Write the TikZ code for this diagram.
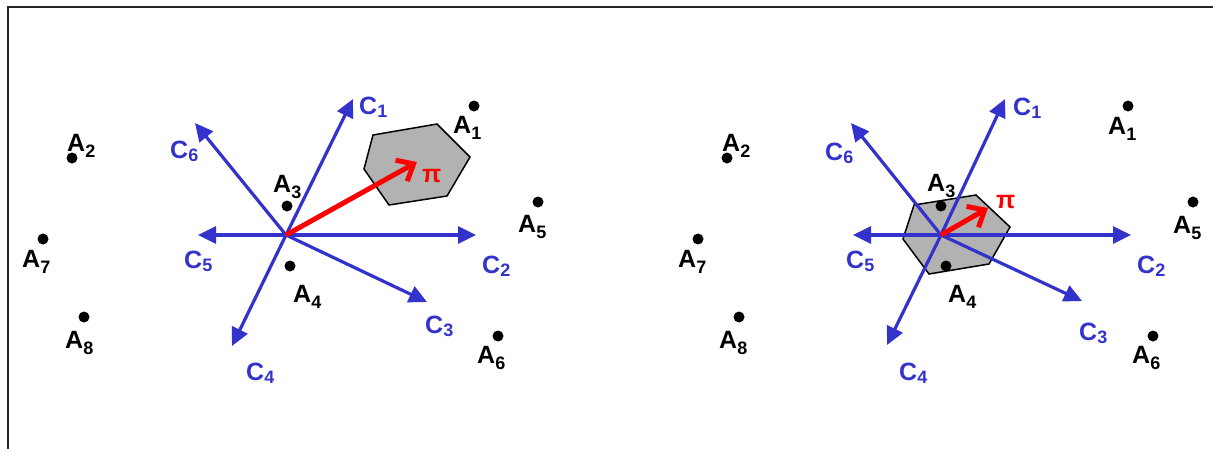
\documentclass[tikz,border=0pt]{standalone}
\usepackage{fontspec}
\setmainfont{Liberation Sans}
\newfontfamily\labfont{Liberation Sans Bold}
\usetikzlibrary{arrows.meta}
\definecolor{cblue}{RGB}{51,51,204}
\definecolor{hexgray}{RGB}{178,178,178}
\newcommand{\sublab}[3]{#1\raisebox{-#3pt}{\fontsize{18}{18}\selectfont #2}}
\begin{document}
\begin{tikzpicture}[x=1pt,y=-1pt,
  bluearrow/.style={draw=cblue, line width=3.2pt, -{Triangle[length=18pt,width=17pt]}},
  redarrow/.style={draw=red, line width=5pt, -{Straight Barb[length=14pt,width=24pt]}},
  hexstyle/.style={draw=black, line width=1.5pt, fill=hexgray, line join=miter},
  dotstyle/.style={circle, fill=black, inner sep=0pt, minimum size=11pt},
  alab/.style={anchor=base west, inner sep=0pt, font=\labfont\fontsize{25}{25}\selectfont, text=black},
  clab/.style={alab, text=cblue},
  pilab/.style={alab, text=red},
  frame/.style={draw=black!85, line width=1.5pt}]
\useasboundingbox (0,0) rectangle (1213,448);
% frame
\coordinate (f1) at (8,452);
\coordinate (f2) at (8,7);
\coordinate (f3) at (1217,7);
\draw[frame] (f1) -- (f2) -- (f3);

% ---------------- left diagram ----------------
\coordinate (LO) at (286,235);
\coordinate (Lc1) at (353,99);
\coordinate (Lc6) at (195,123);
\coordinate (Lc5) at (198,235);
\coordinate (Lc2) at (476,235);
\coordinate (Lc3) at (427,302);
\coordinate (Lc4) at (232,346);
\coordinate (Lpi) at (417,162);
\draw[hexstyle] (373,135) -- (437,124) -- (470,157) -- (447,196) -- (389,205) -- (364,169) -- cycle;
\foreach \t in {Lc1,Lc2,Lc3,Lc4,Lc5,Lc6} \draw[bluearrow] (LO) -- (\t);
\draw[redarrow] (LO) -- (Lpi);
\node[dotstyle] (LA1) at (474,106) {};
\node[dotstyle] (LA2) at (72,158) {};
\node[dotstyle] (LA3) at (287,206) {};
\node[dotstyle] (LA4) at (290,266) {};
\node[dotstyle] (LA5) at (538,202) {};
\node[dotstyle] (LA6) at (498,336) {};
\node[dotstyle] (LA7) at (43,239) {};
\node[dotstyle] (LA8) at (84,317) {};
\node[alab] (LtA1) at (453,133) {\sublab{A}{1}{6}};
\node[alab] (LtA2) at (67,151) {\sublab{A}{2}{6}};
\node[alab] (LtA3) at (273,192) {\sublab{A}{3}{6}};
\node[alab] (LtA4) at (293,302) {\sublab{A}{4}{6}};
\node[alab] (LtA5) at (518,232) {\sublab{A}{5}{6}};
\node[alab] (LtA6) at (477,363) {\sublab{A}{6}{6}};
\node[alab] (LtA7) at (22,267) {\sublab{A}{7}{6}};
\node[alab] (LtA8) at (65,348) {\sublab{A}{8}{6}};
\node[clab] (LtC1) at (359,114) {\sublab{C}{1}{3}};
\node[clab] (LtC2) at (482,273) {\sublab{C}{2}{3}};
\node[clab] (LtC3) at (425,333) {\sublab{C}{3}{3}};
\node[clab] (LtC4) at (246,380) {\sublab{C}{4}{3}};
\node[clab] (LtC5) at (184,268) {\sublab{C}{5}{3}};
\node[clab] (LtC6) at (170,158) {\sublab{C}{6}{3}};
\node[pilab] (Ltpi) at (422,182) {π};

% ---------------- right diagram ----------------
\coordinate (RO) at (941,235);
\coordinate (Rc1) at (1005,99);
\coordinate (Rc6) at (851,123);
\coordinate (Rc5) at (853,235);
\coordinate (Rc2) at (1131,235);
\coordinate (Rc3) at (1082,301);
\coordinate (Rc4) at (887,345);
\coordinate (Rpi) at (988,208);
\draw[hexstyle] (914,205) -- (976,195) -- (1010,227) -- (989,264) -- (929,274) -- (903,239) -- cycle;
\foreach \t in {Rc1,Rc2,Rc3,Rc4,Rc5,Rc6} \draw[bluearrow] (RO) -- (\t);
\draw[redarrow] (RO) -- (Rpi);
\node[dotstyle] (RA1) at (1128,106) {};
\node[dotstyle] (RA2) at (727,158) {};
\node[dotstyle] (RA3) at (941,206) {};
\node[dotstyle] (RA4) at (946,266) {};
\node[dotstyle] (RA5) at (1193,202) {};
\node[dotstyle] (RA6) at (1153,336) {};
\node[dotstyle] (RA7) at (698,239) {};
\node[dotstyle] (RA8) at (739,317) {};
\node[alab] (RtA1) at (1108,134) {\sublab{A}{1}{6}};
\node[alab] (RtA2) at (722,151) {\sublab{A}{2}{6}};
\node[alab] (RtA3) at (927,191) {\sublab{A}{3}{6}};
\node[alab] (RtA4) at (948,302) {\sublab{A}{4}{6}};
\node[alab] (RtA5) at (1173,233) {\sublab{A}{5}{6}};
\node[alab] (RtA6) at (1132,363) {\sublab{A}{6}{6}};
\node[alab] (RtA7) at (678,267) {\sublab{A}{7}{6}};
\node[alab] (RtA8) at (719,348) {\sublab{A}{8}{6}};
\node[clab] (RtC1) at (1013,115) {\sublab{C}{1}{3}};
\node[clab] (RtC2) at (1137,273) {\sublab{C}{2}{3}};
\node[clab] (RtC3) at (1079,340) {\sublab{C}{3}{3}};
\node[clab] (RtC4) at (899,380) {\sublab{C}{4}{3}};
\node[clab] (RtC5) at (846,268) {\sublab{C}{5}{3}};
\node[clab] (RtC6) at (825,160) {\sublab{C}{6}{3}};
\node[pilab] (Rtpi) at (996,208) {π};
\end{tikzpicture}
\end{document}
